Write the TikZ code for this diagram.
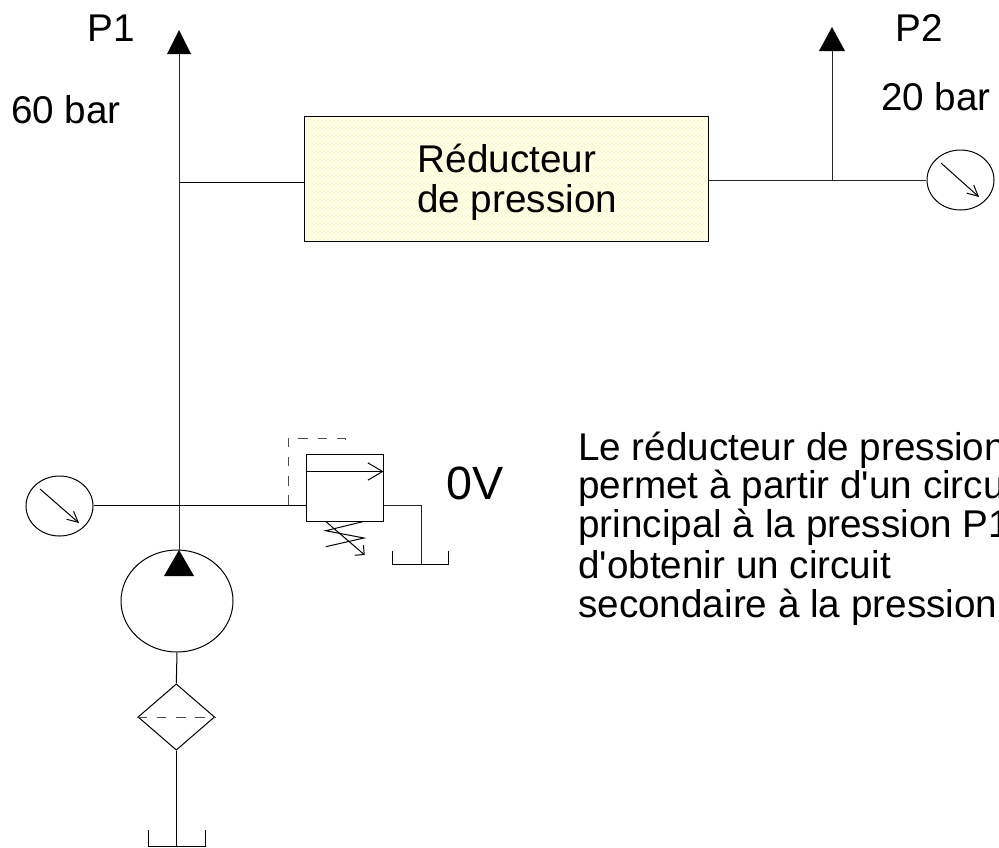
\documentclass[tikz,border=0pt]{standalone}
\usepackage{fontspec}
\setmainfont[Ligatures=TeXOff]{Liberation Sans}
\usetikzlibrary{arrows.meta,shapes.geometric,patterns}
\tikzset{
 x=0.75pt,y=-0.75pt,
 ln/.style={line width=0.75pt,black!85},
 thin ln/.style={line width=0.75pt,black},
 dsh/.style={line width=0.75pt,black!70,dash pattern=on 7.25pt off 7.25pt},
 tip/.style={fill=black,draw=none},
 txt/.style={font=\fontsize{29pt}{30pt}\selectfont,inner sep=0pt,anchor=base west},
 gauge/.style={ellipse,draw,line width=0.75pt,inner sep=0pt,minimum width=50.25pt,minimum height=45pt},
 needle/.style={line width=0.75pt,-{Straight Barb[length=8pt,width=8pt]}},
 vneedle/.style={line width=0.75pt,-{Straight Barb[length=11pt,width=13pt]}},
 sneedle/.style={line width=0.75pt,-{Straight Barb[length=5pt,width=10pt]}},
}
\begin{document}
\begin{tikzpicture}
\useasboundingbox (0,0) rectangle (999,847);
\clip (0,0) rectangle (999,847);
% reducer
\node[draw,line width=0.75pt,pattern=crosshatch dots,pattern color=yellow,minimum width=303pt,minimum height=93.75pt,inner sep=0pt] (red) at (506,178.5) {};
\node[txt] (t1) at (417.5,172.5) {Réducteur};
\node[txt] (t2) at (417,212.5) {de pression};
% P1 line
\coordinate (p1top) at (179,52);
\coordinate (p1j) at (179,182);
\coordinate (p1g) at (179,505);
\node[ellipse,draw,line width=0.75pt,inner sep=0pt,minimum width=84pt,minimum height=76.5pt] (pump) at (177,601) {};
\draw[ln] (179,550) -- (p1top);
\fill[tip] (179,30) -- (167,54) -- (191,54) -- cycle;
\fill[tip] (179,550) -- (164,576) -- (194,576) -- cycle;
\draw[thin ln] (p1j) -- (red.west |- p1j);
% P2
\coordinate (p2j) at (832,180);
\coordinate (p2top) at (832,51);
\draw[ln] (p2j) -- (p2top);
\fill[tip] (832,27) -- (819,51) -- (845,51) -- cycle;
\node[gauge] (g2) at (960.5,180) {};
\draw[ln] (red.east |- p2j) -- (926,180);
\draw[needle] (941,163) -- (979,197);
% left gauge
\node[gauge] (g1) at (59.5,506) {};
\draw[needle] (40,489) -- (79,523);
% relief valve
\node[draw,line width=0.75pt,minimum width=57.75pt,minimum height=50.25pt,inner sep=0pt] (val) at (344.5,487.5) {};
\draw[thin ln] (94,505) -- (val.west |- 0,505);
\draw[vneedle] (val.west |- 0,471.5) -- (val.east |- 0,471.5);
\coordinate (d1) at (288,505);
\coordinate (d2) at (288,438);
\coordinate (d3) at (345,438);
\coordinate (d4) at (345,447);
\draw[dsh] (d1) -- (d2) -- (d3) -- (d4);
% spring
\coordinate (s0) at (362.7,521.7);
\draw[line width=0.75pt] (s0) -- (325.7,530.7) -- (364,538) -- (325.7,546.7);
\draw[sneedle] (326,521.7) -- (364.7,555);
% tank of valve
\coordinate (vt) at (421,505);
\coordinate (vb) at (421,564);
\draw[ln] (val.east |- vt) -- (vt) -- (vb);
\draw[thin ln] (392,551) -- (392,564) -- (448,564) -- (448,551);
% filter
\node[diamond,draw,line width=0.75pt,inner sep=0pt,minimum width=57.5pt,minimum height=49.75pt] (fil) at (176.3,717) {};
\draw[thin ln] (pump.south) -- (fil.north);
\draw[dsh] (fil.west) -- (fil.east);
% bottom tank
\coordinate (bt) at (176.3,846);
\draw[thin ln] (fil.south) -- (bt);
\draw[thin ln] (148,830) -- (148,846) -- (205,846) -- (205,830);
% labels
\node[txt] (p1) at (87,41.5) {P1};
\node[txt] (b1) at (11,123) {60 bar};
\node[txt] (p2) at (895,41) {P2};
\node[txt] (b2) at (881,110) {20 bar};
\node[txt,font=\fontsize{35pt}{36pt}\selectfont] (ov) at (446,499.5) {0V};
\node[txt] (l1) at (578,460) {Le réducteur de pression};
\node[txt] (l2) at (578,498) {permet à partir d'un circuit};
\node[txt] (l3) at (578,537) {principal à la pression P1};
\node[txt] (l4) at (578,578) {d'obtenir un circuit};
\node[txt] (l5) at (578,617) {secondaire à la pression P2};
\end{tikzpicture}
\end{document}
